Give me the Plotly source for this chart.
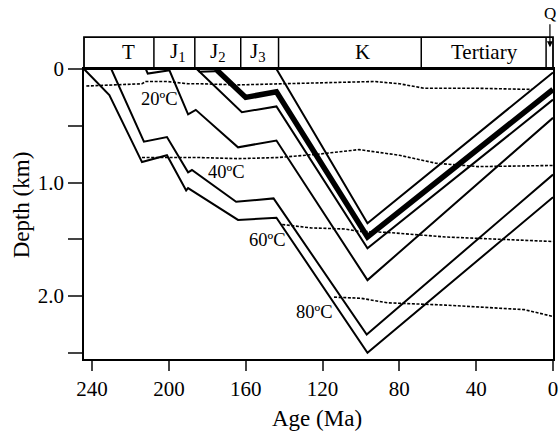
import plotly.graph_objects as go

# ---- burial curves (age Ma, depth km) ----
curve_a_age = [244.2, 231, 214, 201, 191, 190, 164, 144, 96.6, 0]
curve_a_dep = [0.0, 0.23, 0.82, 0.76, 1.07, 1.05, 1.33, 1.31, 2.50, 1.13]
curve_b_age = [230, 213, 201, 190, 188, 165, 145.5, 97, 0]
curve_b_dep = [0.0, 0.64, 0.60, 0.91, 0.89, 1.17, 1.14, 2.34, 0.93]
curve_c_age = [200, 190, 186, 164, 144, 96.6, 0]
curve_c_dep = [0.0, 0.40, 0.36, 0.69, 0.63, 1.86, 0.43]
curve_d_age = [185.5, 162, 144, 96.6, 0]
curve_d_dep = [0.0, 0.38, 0.33, 1.58, 0.27]
curve_e_age = [175.6, 160, 144, 96.6, 0]
curve_e_dep = [0.0, 0.25, 0.20, 1.48, 0.18]
curve_f_age = [144, 96.6, 0]
curve_f_dep = [0.0, 1.36, 0.03]
sliver1_age = [212, 211, 199.5]
sliver1_dep = [0.0, 0.04, 0.01]
sliver2_age = [185, 184, 176]
sliver2_dep = [0.0, 0.025, 0.02]

# ---- isotherms ----
iso20_age = [243, 230, 214, 212, 201, 190, 184, 164, 143, 117, 93, 80, 67, 39, 11]
iso20_dep = [0.15, 0.14, 0.13, 0.11, 0.11, 0.13, 0.13, 0.14, 0.13, 0.12, 0.11, 0.13, 0.17, 0.17, 0.18]
iso40_age = [214, 184, 164, 143, 122, 101, 80, 61, 39, 0]
iso40_dep = [0.78, 0.78, 0.79, 0.78, 0.75, 0.71, 0.76, 0.83, 0.86, 0.85]
iso60_age = [141, 126, 108, 101, 86, 56, 0]
iso60_dep = [1.37, 1.40, 1.41, 1.43, 1.44, 1.48, 1.52]
iso80_age = [114, 100, 86, 56, 15, 0]
iso80_dep = [2.01, 2.02, 2.06, 2.08, 2.12, 2.18]

iso_labels = ["20ºC", "40ºC", "60ºC", "80ºC"]
iso_label_age = [205, 170, 148.5, 124]
iso_label_dep = [0.26, 0.91, 1.51, 2.14]

# ---- stratigraphic band ----
period_bounds = [207.8, 186.5, 162.6, 142.9, 68.6, 3.6]
period_names = ["T", "J<sub>1</sub>", "J<sub>2</sub>", "J<sub>3</sub>", "K", "Tertiary"]
period_label_age = [221, 195, 174.5, 153.8, 99, 35.8]

x_ticks = [240, 200, 160, 120, 80, 40, 0]
y_ticks = [0, 0.5, 1.0, 1.5, 2.0, 2.5]
y_ticktext = ["0", "", "1.0", "", "2.0", ""]

FONT = "Liberation Serif"
fig = go.Figure()

def add_line(xs, ys, width=2.0, dash=None):
    fig.add_trace(go.Scatter(x=xs, y=ys, mode="lines",
                             line=dict(color="black", width=width, dash=dash),
                             hoverinfo="skip", showlegend=False))

for xs, ys in [(iso20_age, iso20_dep), (iso40_age, iso40_dep),
               (iso60_age, iso60_dep), (iso80_age, iso80_dep)]:
    add_line(xs, ys, width=1.6, dash="3px,1.6px")

for xs, ys in [(curve_a_age, curve_a_dep), (curve_b_age, curve_b_dep),
               (curve_c_age, curve_c_dep), (curve_d_age, curve_d_dep),
               (curve_f_age, curve_f_dep), (sliver1_age, sliver1_dep),
               (sliver2_age, sliver2_dep)]:
    add_line(xs, ys, width=2.0)
add_line(curve_e_age, curve_e_dep, width=5.5)

band_top = 1.11
shapes = [dict(type="rect", xref="paper", yref="paper", x0=0, x1=1, y0=1, y1=band_top,
               line=dict(color="black", width=1.8), fillcolor="rgba(0,0,0,0)")]
for b in period_bounds:
    shapes.append(dict(type="line", xref="x", yref="paper", x0=b, x1=b, y0=1, y1=band_top,
                       line=dict(color="black", width=1.5)))

annotations = []
for name, xa in zip(period_names, period_label_age):
    annotations.append(dict(x=xa, y=1.057, xref="x", yref="paper", text=name,
                            showarrow=False, xanchor="center", yanchor="middle",
                            font=dict(family=FONT, size=21, color="black")))
for t, xa, ya in zip(iso_labels, iso_label_age, iso_label_dep):
    annotations.append(dict(x=xa, y=ya, xref="x", yref="y", text=t, showarrow=False,
                            xanchor="center", yanchor="middle",
                            font=dict(family=FONT, size=18.5, color="black")))
annotations.append(dict(x=1.6, y=1.075, xref="x", yref="paper", text="Q", showarrow=True,
                        ax=0, ay=-34, arrowhead=2, arrowsize=1, arrowwidth=1.2,
                        arrowcolor="black", font=dict(family=FONT, size=17, color="black")))
annotations.append(dict(x=0.497, y=-0.205, xref="paper", yref="paper", text="Age (Ma)",
                        showarrow=False, xanchor="center", yanchor="middle",
                        font=dict(family=FONT, size=23, color="black")))
annotations.append(dict(x=-0.133, y=0.532, xref="paper", yref="paper", text="Depth (km)",
                        showarrow=False, textangle=-90, xanchor="center", yanchor="middle",
                        font=dict(family=FONT, size=23, color="black")))

fig.update_layout(
    width=559, height=433,
    margin=dict(l=84, r=6, t=69, b=74, autoexpand=False),
    paper_bgcolor="white", plot_bgcolor="white",
    shapes=shapes, annotations=annotations,
    font=dict(family=FONT, size=20, color="black"),
    xaxis=dict(range=[244.2, 0], tickvals=x_ticks, ticks="outside", ticklen=10,
               tickwidth=1.8, showline=True, linewidth=1.8, linecolor="black",
               mirror=True, showgrid=False, zeroline=False,
               tickfont=dict(family=FONT, size=21, color="black")),
    yaxis=dict(range=[2.555, 0], tickvals=y_ticks, ticktext=y_ticktext,
               ticks="outside", ticklen=14, tickwidth=1.8, showline=True,
               linewidth=1.8, linecolor="black", mirror=True, showgrid=False,
               zeroline=False, tickfont=dict(family=FONT, size=21, color="black")),
)

fig.write_html("out.html")
